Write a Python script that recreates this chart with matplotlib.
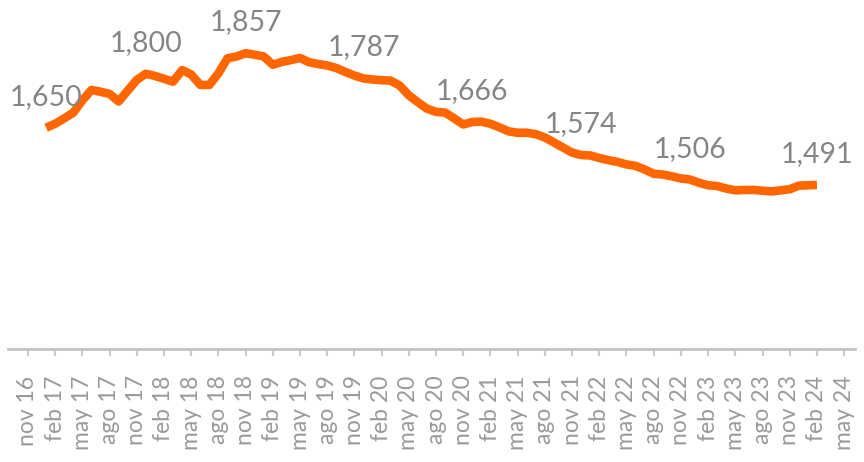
import numpy as np
import matplotlib
matplotlib.use("Agg")
import matplotlib.pyplot as plt
from matplotlib.transforms import ScaledTranslation

# monthly series, first value = jan 17, last = feb 24
values = [1650, 1661, 1676, 1692, 1726, 1755, 1750, 1744, 1723, 1753, 1783, 1800,
          1794, 1786, 1778, 1810, 1798, 1769, 1769, 1801, 1843, 1848, 1857, 1853,
          1848, 1825, 1833, 1838, 1844, 1832, 1827, 1823, 1816, 1805, 1795, 1787,
          1784, 1782, 1781, 1767, 1740, 1721, 1703, 1694, 1692, 1676, 1659, 1666,
          1667, 1661, 1651, 1640, 1636, 1636, 1632, 1623, 1609, 1595, 1581, 1574,
          1573, 1566, 1560, 1555, 1548, 1544, 1534, 1522, 1520, 1515, 1509, 1506,
          1497, 1490, 1488, 1481, 1476, 1477, 1477, 1475, 1473, 1476, 1479, 1489,
          1490, 1491]
start_offset = 2  # months after nov 16

# points that carry a value label
labelled = [0, 11, 22, 35, 47, 59, 71, 85]

tick_labels = ["nov 16", "feb 17", "may 17", "ago 17", "nov 17", "feb 18", "may 18",
               "ago 18", "nov 18", "feb 19", "may 19", "ago 19", "nov 19", "feb 20",
               "may 20", "ago 20", "nov 20", "feb 21", "may 21", "ago 21", "nov 21",
               "feb 22", "may 22", "ago 22", "nov 22", "feb 23", "may 23", "ago 23",
               "nov 23", "feb 24", "may 24"]

plt.rcParams['font.family'] = ['Lato', 'DejaVu Sans']

fig = plt.figure(figsize=(8.64, 4.62), dpi=100)
ax = fig.add_axes([8 / 864, 113 / 462, 847 / 864, 349 / 462])

x = np.arange(len(values)) + start_offset
ax.plot(x, values, color="#FF6600", linewidth=6.2, solid_capstyle="butt",
        solid_joinstyle="round")

for i in labelled:
    ax.annotate(f"{values[i]:,}", (x[i], values[i]), xytext=(0, 16.5),
                textcoords="offset points", ha="center", va="baseline",
                fontsize=20.5, color="#858585")

ax.set_xlim(-2.2, 91.2)
ax.set_ylim(1035, 2005)

ax.set_xticks(np.arange(len(tick_labels)) * 3)
ax.set_xticklabels(tick_labels, rotation=90, fontsize=16.5, color="#9a9a9a",
                   va="top", ha="center")
offset = ScaledTranslation(10 / 100, 0, fig.dpi_scale_trans)
for lab in ax.get_xticklabels():
    lab.set_transform(lab.get_transform() + offset)

ax.tick_params(axis="x", length=5, width=1.5, color="#c8c8c8", pad=14)
ax.set_yticks([])
for side in ["top", "right", "left"]:
    ax.spines[side].set_visible(False)
ax.spines["bottom"].set_color("#c4c4c4")
ax.spines["bottom"].set_linewidth(2)

fig.savefig("out.png", dpi=100)
